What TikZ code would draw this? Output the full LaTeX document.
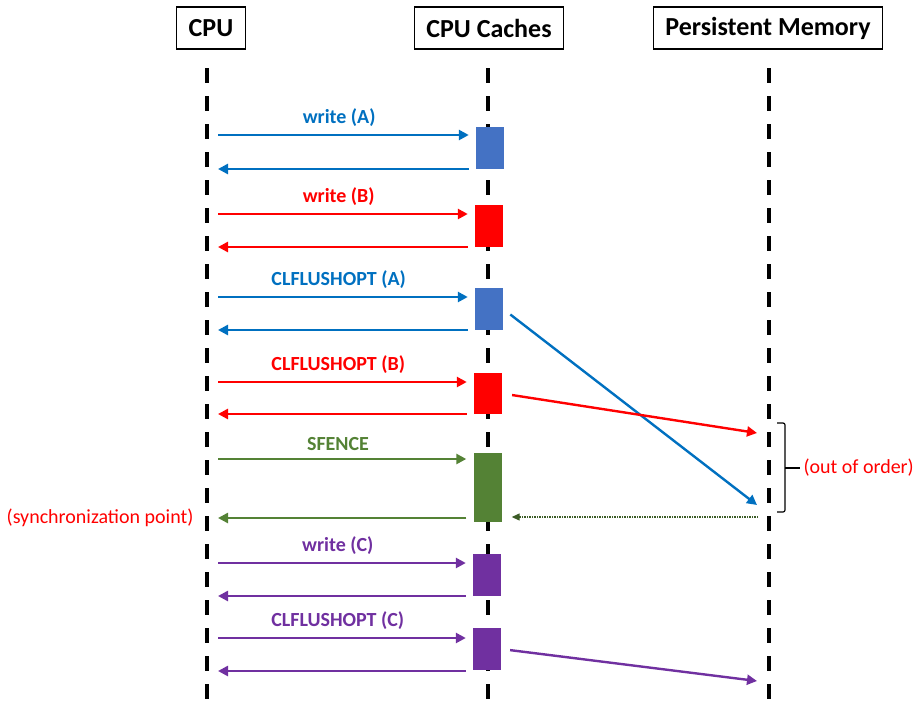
\documentclass[tikz,border=0pt]{standalone}
\usepackage{fontspec}
\setmainfont{Carlito}
\usetikzlibrary{arrows.meta,positioning,calc}

\definecolor{msgblue}{RGB}{0,112,192}
\definecolor{boxblue}{RGB}{68,114,196}
\definecolor{msgred}{RGB}{255,0,0}
\definecolor{msggreen}{RGB}{84,130,53}
\definecolor{msgpurple}{RGB}{112,48,160}

\begin{document}
\begin{tikzpicture}[
    x=1pt, y=-1pt,
    >={Triangle[length=10pt,width=10pt]},
    lifeline/.style={line width=4pt, dash pattern=on 15pt off 13pt},
    headbox/.style={
        draw,
        line width=1.2pt,
        minimum height=42pt,
        inner xsep=12pt,
        font=\fontsize{26}{30}\selectfont\bfseries
    },
    actbox/.style={
        minimum width=28pt,
        inner sep=0pt
    },
    msg/.style={->, line width=2.6pt, shorten >=7pt},
    reply/.style={->, line width=2.6pt, shorten <=7pt},
    flush/.style={->, line width=2.4pt},
    msglabel/.style={above=4pt, font=\fontsize{20}{24}\selectfont\bfseries},
    note/.style={text=msgred, font=\fontsize{20}{24}\selectfont}
]

\useasboundingbox (0,0) rectangle (918,704);

% Headers
\node[headbox] (cpu) at (211,28) {CPU};
\node[headbox] (caches) at (489,28) {CPU Caches};
\node[headbox] (pmem) at (768,28) {Persistent Memory};

% Lifelines
\coordinate (cputop) at (207,68);
\coordinate (cachetop) at (488,68);
\coordinate (pmtop) at (769,68);
\draw[lifeline] (cputop) -- ++(0,636);
\draw[lifeline] (cachetop) -- ++(0,636);
\draw[lifeline] (pmtop) -- ++(0,636);

% Activation boxes in the caches
\node[actbox, fill=boxblue, minimum height=42pt] (actwa) at (490,148) {};
\node[actbox, fill=msgred, minimum height=42pt] (actwb) at (489,226) {};
\node[actbox, fill=boxblue, minimum height=42pt] (actfa) at (489,309) {};
\node[actbox, fill=msgred, minimum height=41pt] (actfb) at (488,393.5) {};
\node[actbox, fill=msggreen, minimum height=69pt] (actsf) at (487.5,487.5) {};
\node[actbox, fill=msgpurple, minimum height=42pt] (actwc) at (487,575) {};
\node[actbox, fill=msgpurple, minimum height=42pt] (actfc) at (487,649) {};

% Message start points on the CPU side
\coordinate (wain) at (218,135);
\coordinate (waout) at (218,169);
\coordinate (wbin) at (218,214);
\coordinate (wbout) at (218,247);
\coordinate (fain) at (218,297);
\coordinate (faout) at (218,330);
\coordinate (fbin) at (218,382);
\coordinate (fbout) at (218,414);
\coordinate (sfin) at (218,459);
\coordinate (sfout) at (218,518);
\coordinate (wcin) at (218,563);
\coordinate (wcout) at (218,596);
\coordinate (fcin) at (218,638);
\coordinate (fcout) at (218,671);

% Points reached in persistent memory
\coordinate (pma) at (757,505);
\coordinate (pmb) at (757,433);
\coordinate (pmc) at (757,681);
\coordinate (pmsf) at (758,517);

% CPU <-> caches
\draw[msg, msgblue] (wain) -- node[pos=0.47, msglabel, text=msgblue] (lblwa) {write (A)} (wain -| actwa.west);
\draw[reply, msgblue] (waout -| actwa.west) -- (waout);

\draw[msg, msgred] (wbin) -- node[pos=0.47, msglabel, text=msgred] (lblwb) {write (B)} (wbin -| actwb.west);
\draw[reply, msgred] (wbout -| actwb.west) -- (wbout);

\draw[msg, msgblue] (fain) -- node[pos=0.47, msglabel, text=msgblue] (lblfa) {CLFLUSHOPT (A)} (fain -| actfa.west);
\draw[reply, msgblue] (faout -| actfa.west) -- (faout);

\draw[msg, msgred] (fbin) -- node[pos=0.47, msglabel, text=msgred] (lblfb) {CLFLUSHOPT (B)} (fbin -| actfb.west);
\draw[reply, msgred] (fbout -| actfb.west) -- (fbout);

\draw[msg, msggreen] (sfin) -- node[pos=0.47, msglabel, text=msggreen] (lblsf) {SFENCE} (sfin -| actsf.west);
\draw[reply, msggreen] (sfout -| actsf.west) -- (sfout);

\draw[msg, msgpurple] (wcin) -- node[pos=0.47, msglabel, text=msgpurple] (lblwc) {write (C)} (wcin -| actwc.west);
\draw[reply, msgpurple] (wcout -| actwc.west) -- (wcout);

\draw[msg, msgpurple] (fcin) -- node[pos=0.47, msglabel, text=msgpurple] (lblfc) {CLFLUSHOPT (C)} (fcin -| actfc.west);
\draw[reply, msgpurple] (fcout -| actfc.west) -- (fcout);

% Caches -> persistent memory
\draw[flush, msgblue, shorten <=9pt] (actfa.east) -- (pma);
\draw[flush, msgred, shorten <=10pt] (actfb.east) -- (pmb);
\draw[flush, msgpurple, shorten <=9pt] (actfc.east) -- (pmc);
\draw[->, msggreen!70!black, line width=1.3pt, dash pattern=on 1.5pt off 1pt,
    >={Triangle[length=8pt,width=7pt]}, shorten >=10pt] (pmsf) -- (pmsf -| actsf.east);

% Notes
\node[note, anchor=east] (sync) at (197,518) {(synchronization point)};
\node[note, anchor=west] (ooo) at (800,468) {(out of order)};
\draw[line width=1.2pt, rounded corners=2pt] (777,423) -- (785,423) -- (785,512) -- (777,512);
\draw[line width=1.2pt] (785,468) -- (ooo.west);

\end{tikzpicture}
\end{document}
